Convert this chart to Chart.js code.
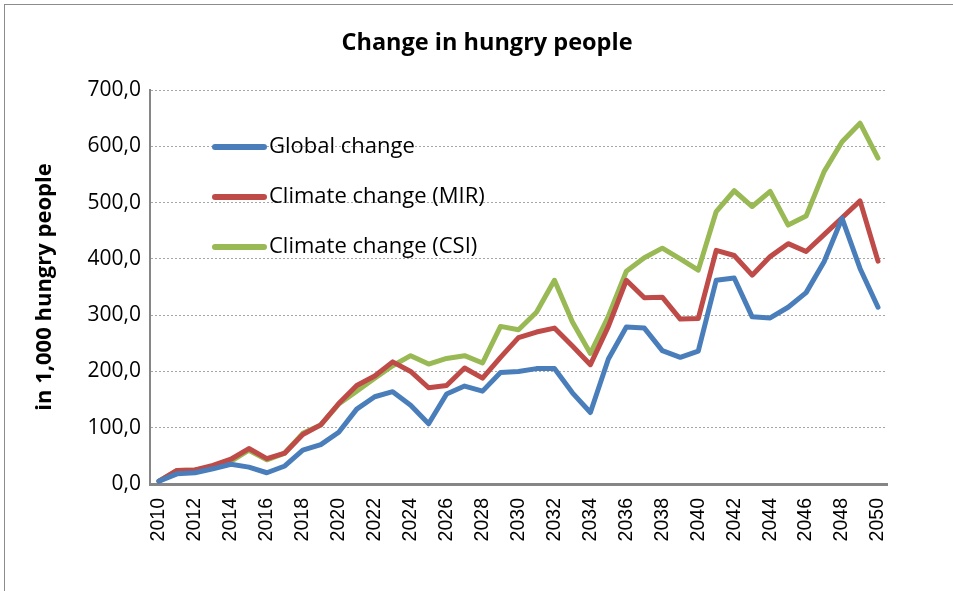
<!DOCTYPE html>
<html>
<head>
<meta charset="utf-8">
<script src="https://cdn.jsdelivr.net/npm/chart.js@4/dist/chart.umd.min.js"></script>
<style>
  html, body { margin: 0; padding: 0; background: #fff; overflow: hidden; }
  #wrap { position: relative; width: 953px; height: 591px; }
  #frame { position: absolute; left: 4px; top: 4px; width: 980px; height: 620px; border: 1px solid #8c8c8c; box-sizing: border-box; pointer-events: none; }
</style>
</head>
<body>
<div id="wrap">
  <canvas id="chart" width="953" height="591"></canvas>
  <div id="frame"></div>
</div>
<script>
const years = ["2010","2011","2012","2013","2014","2015","2016","2017","2018","2019",
  "2020","2021","2022","2023","2024","2025","2026","2027","2028","2029",
  "2030","2031","2032","2033","2034","2035","2036","2037","2038","2039",
  "2040","2041","2042","2043","2044","2045","2046","2047","2048","2049","2050"];

const globalChange = [5, 18, 20, 27, 35, 30, 20, 32, 60, 70,
  92, 133, 155, 164, 140, 107, 160, 174, 165, 198,
  200, 205, 205, 162, 127, 222, 279, 277, 237, 225,
  236, 362, 366, 297, 295, 314, 340, 395, 472, 383, 314];

const climateMIR = [5, 24, 25, 33, 44, 63, 45, 55, 88, 105,
  143, 175, 192, 217, 200, 171, 175, 206, 188, 225,
  260, 270, 277, 245, 212, 280, 362, 331, 332, 293,
  294, 415, 406, 371, 404, 427, 413, 443, 473, 503, 396];

const climateCSI = [5, 24, 25, 30, 40, 60, 43, 55, 90, 105,
  142, 165, 188, 210, 228, 213, 223, 228, 215, 280,
  274, 305, 362, 288, 232, 298, 378, 402, 419, 400,
  380, 484, 521, 493, 520, 460, 476, 555, 608, 641, 579];

const seriesNames = ["Global change", "Climate change (MIR)", "Climate change (CSI)"];
const seriesColors = ["#4a7ebb", "#be4b48", "#98b954"];
const chartTitle = "Change in hungry people";

const $ = (s) => document.querySelector(s);

// title centred on the whole frame + legend inside the plot area, like the Excel original
const excelDecor = {
  id: "excelDecor",
  afterDraw(chart) {
    const ctx = chart.ctx;
    ctx.save();
    ctx.fillStyle = "#000";
    ctx.font = "bold 23.5px 'Open Sans'";
    ctx.textAlign = "center";
    ctx.textBaseline = "middle";
    ctx.fillText(chartTitle, 487, 43);

    chart.data.datasets.forEach((ds, i) => {
      const y = 147 + i * 50;
      ctx.strokeStyle = ds.borderColor;
      ctx.lineWidth = 6;
      ctx.lineCap = "round";
      ctx.beginPath();
      ctx.moveTo(215, y);
      ctx.lineTo(264, y);
      ctx.stroke();
      ctx.fillStyle = "#000";
      ctx.font = "22px 'Open Sans'";
      ctx.textBaseline = "middle";
      ctx.textAlign = "left";
      ctx.fillText(ds.label, 269, y);
    });
    ctx.restore();
  }
};

const mkSet = (label, data, color) => ({
  label, data,
  borderColor: color,
  backgroundColor: color,
  borderWidth: 5,
  pointRadius: 0,
  tension: 0,
  borderJoinStyle: "round",
  borderCapStyle: "round"
});

new Chart($("#chart"), {
  type: "line",
  data: {
    labels: years,
    datasets: [
      mkSet(seriesNames[0], globalChange, seriesColors[0]),
      mkSet(seriesNames[1], climateMIR, seriesColors[1]),
      mkSet(seriesNames[2], climateCSI, seriesColors[2])
    ]
  },
  options: {
    responsive: false,
    animation: false,
    layout: { padding: { left: 4, right: 66, top: 90, bottom: 0 } },
    plugins: {
      legend: { display: false },
      tooltip: { enabled: false },
      title: { display: false }
    },
    scales: {
      x: {
        offset: true,
        grid: { display: true, drawOnChartArea: false, drawTicks: false },
        border: { display: true, color: "#868686", width: 3 },
        afterFit: (s) => { s.height = 107; },
        ticks: {
          autoSkip: false,
          minRotation: 90,
          maxRotation: 90,
          padding: 14,
          color: "#000",
          font: { family: "'Liberation Sans'", size: 19.5 },
          callback: (v, i) => (i % 2 === 0 ? years[i] : "")
        }
      },
      y: {
        min: 0,
        max: 700,
        afterFit: (s) => { s.width = 146; },
        grid: { color: "#a6a6a6", lineWidth: 1, drawTicks: false },
        border: { display: true, color: "#868686", width: 2, dash: [2, 2] },
        ticks: {
          stepSize: 100,
          padding: 9,
          color: "#000",
          font: { family: "'Open Sans'", size: 21 },
          callback: (v) => v.toFixed(1).replace(".", ",")
        },
        title: {
          display: true,
          text: "in 1,000 hungry people",
          color: "#000",
          font: { family: "'Open Sans'", size: 22, weight: "bold" },
          padding: { top: 28, bottom: 0 }
        }
      }
    }
  },
  plugins: [excelDecor]
});
</script>
</body>
</html>
